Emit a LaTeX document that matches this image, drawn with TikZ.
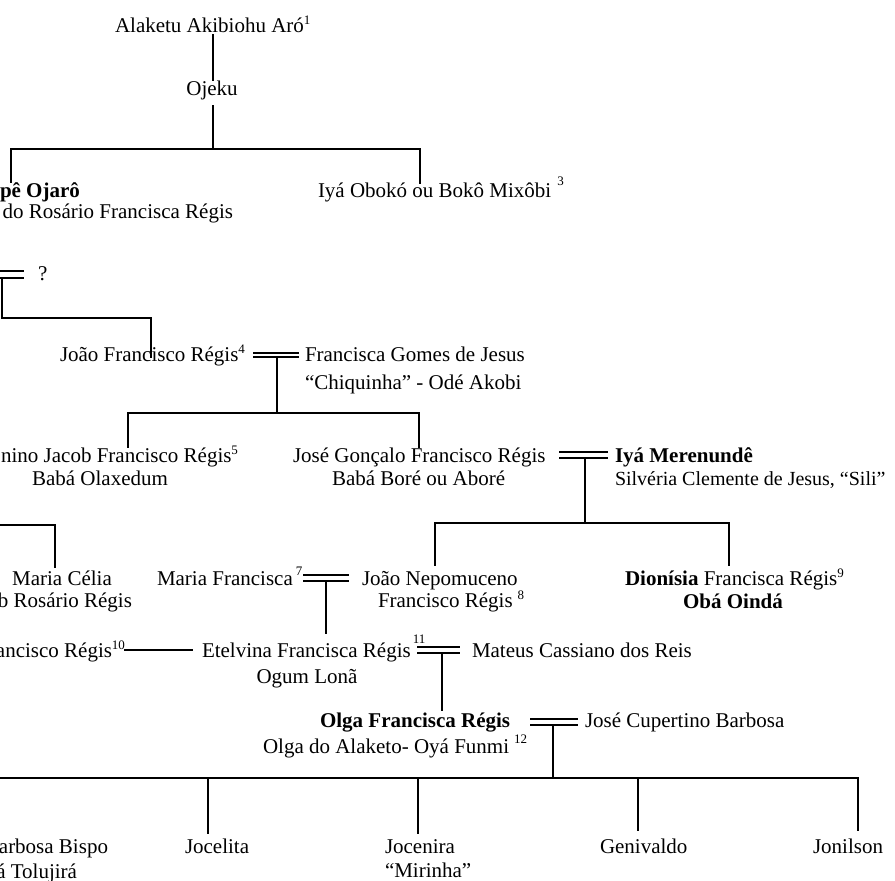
\documentclass[tikz,border=0pt]{standalone}
\usepackage{fontspec}
\setmainfont{Liberation Serif}
\newcommand\rsup[2]{\raisebox{#1}{\fontsize{13}{13}\selectfont #2}}
\begin{document}
\begin{tikzpicture}[x=1pt,y=-1pt,
  every node/.style={inner sep=0pt,outer sep=0pt,font=\fontsize{21}{24}\selectfont},
  tw/.style={anchor=base west},
  te/.style={anchor=base east},
  tc/.style={anchor=base},
  ln/.style={line width=1.3pt,line cap=rect},
  dbl/.style={line width=1.3pt}]
\useasboundingbox (0,0) rectangle (895,881);
\clip (0,0) rectangle (895,881);
\fill[white] (0,0) rectangle (895,881);

% ---- texts ----
\node[tw] (alaketu) at (115,32) {Alaketu Akibiohu Aró\rsup{8pt}{1}};
\node[tc] (ojeku) at (212,95) {Ojeku};
\node[tw] (ojaro) at (0,197) {\bfseries pê Ojarô};
\node[te] (ojaro2) at (233,218) {do Rosário Francisca Régis};
\node[tw] (oboko) at (318,197) {Iyá Obokó ou Bokô Mixôbi\hspace{6pt}\rsup{12pt}{3}};
\node[tw] (q) at (38,280) {?};
\node[tw] (joao) at (60,361) {João Francisco Régis\rsup{8pt}{4}};
\node[tw] (francisca) at (305,361) {Francisca Gomes de Jesus};
\node[tw] (francisca2) at (305,389) {“Chiquinha” - Odé Akobi};
\node[te] (jacob) at (238,462) {nino Jacob Francisco Régis\rsup{8pt}{5}};
\node[tc] (jacob2) at (100,485) {Babá Olaxedum};
\node[tw] (jose) at (293,462) {José Gonçalo Francisco Régis};
\node[tw] (jose2) at (332,485) {Babá Boré ou Aboré};
\node[tw] (iya) at (615,462) {\bfseries Iyá Merenundê};
\node[tw,font=\fontsize{20}{24}\selectfont] (iya2) at (615,485) {Silvéria Clemente de Jesus, “Sili”};
\node[tc] (celia) at (62,585) {Maria Célia};
\node[te] (celia2) at (132,607) {b Rosário Régis};
\node[tw] (mariaf) at (157,585) {Maria Francisca\hspace{3pt}\rsup{10pt}{7}};
\node[tw] (nepo) at (362,585) {João Nepomuceno};
\node[tw] (nepo2) at (378,607) {Francisco Régis\hspace{5pt}\rsup{8pt}{8}};
\node[tw] (dion) at (625,585) {\textbf{Dionísia} Francisca Régis\rsup{8pt}{9}};
\node[tc] (dion2) at (733,608) {\bfseries Obá Oindá};
\node[te] (fr10) at (125,657) {ancisco Régis\rsup{8pt}{10}};
\node[tw] (etel) at (202,657) {Etelvina Francisca Régis\hspace{2pt}\rsup{14pt}{11}};
\node[tc] (etel2) at (307,683) {Ogum Lonã};
\node[tw] (mateus) at (472,657) {Mateus Cassiano dos Reis};
\node[tw] (olga) at (320,727) {\bfseries Olga Francisca Régis};
\node[tw] (olga2) at (263,753) {Olga do Alaketo- Oyá Funmi\hspace{5pt}\rsup{10pt}{12}};
\node[tw] (cupertino) at (585,727) {José Cupertino Barbosa};
\node[te] (bispo) at (108,853) {arbosa Bispo};
\node[te] (bispo2) at (77,878) {á Tolujirá};
\node[tw] (jocelita) at (185,853) {Jocelita};
\node[tw] (jocenira) at (385,853) {Jocenira};
\node[tw] (jocenira2) at (385,877) {“Mirinha”};
\node[tw] (genivaldo) at (600,853) {Genivaldo};
\node[tw] (jonilson) at (813,853) {Jonilson};

% ---- junction coordinates ----
\coordinate (a1) at (213,35);  \coordinate (a2) at (213,80);
\coordinate (o1) at (213,106); \coordinate (o2) at (213,149);
\coordinate (h1l) at (11,149); \coordinate (h1r) at (420,149);
\coordinate (c1) at (11,182);  \coordinate (c2) at (420,183);
\coordinate (m1) at (2,278);   \coordinate (m2) at (2,318);
\coordinate (h2r) at (151,318); \coordinate (j1) at (151,357);
\coordinate (d2) at (277,357); \coordinate (d2b) at (277,413);
\coordinate (h3l) at (128,413); \coordinate (h3r) at (419,413);
\coordinate (k1) at (128,447); \coordinate (k2) at (419,447);
\coordinate (d3) at (585,458); \coordinate (d3b) at (585,523);
\coordinate (h4l) at (435,523); \coordinate (h4r) at (729,523);
\coordinate (n1) at (435,565); \coordinate (n2) at (729,565);
\coordinate (h5l) at (0,525); \coordinate (h5r) at (55,525); \coordinate (mc) at (55,567);
\coordinate (d4) at (326,581); \coordinate (d4b) at (326,633);
\coordinate (s1) at (125,650); \coordinate (s2) at (192,650);
\coordinate (d5) at (442,653); \coordinate (d5b) at (442,710);
\coordinate (d6) at (553,725); \coordinate (d6b) at (553,778);
\coordinate (h6l) at (0,778); \coordinate (h6r) at (858,778);
\coordinate (g1) at (208,778); \coordinate (g1b) at (208,833);
\coordinate (g2) at (418,778); \coordinate (g2b) at (418,833);
\coordinate (g3) at (638,778); \coordinate (g3b) at (638,830);
\coordinate (g4b) at (858,830);

% ---- connectors ----
\draw[ln] (a1) -- (a2);
\draw[ln] (o1) -- (o2);
\draw[ln] (c1) -- (h1l) -- (h1r) -- (c2);
\draw[ln] (m1) -- (m2) -- (h2r) -- (j1);
\draw[ln] (d2) -- (d2b);
\draw[ln] (k1) -- (h3l) -- (h3r) -- (k2);
\draw[ln] (d3) -- (d3b);
\draw[ln] (n1) -- (h4l) -- (h4r) -- (n2);
\draw[ln] (h5l) -- (h5r) -- (mc);
\draw[ln] (d4) -- (d4b);
\draw[ln] (s1) -- (s2);
\draw[ln] (d5) -- (d5b);
\draw[ln] (d6) -- (d6b);
\draw[ln] (h6l) -- (h6r) -- (g4b);
\draw[ln] (g1) -- (g1b);
\draw[ln] (g2) -- (g2b);
\draw[ln] (g3) -- (g3b);

% ---- marriage double lines ----
\draw[dbl] (0,271) -- (24,271) (0,278) -- (24,278);
\draw[dbl] (253,353) -- (299,353) (253,357) -- (299,357);
\draw[dbl] (559,452) -- (608,452) (559,458) -- (608,458);
\draw[dbl] (303,575) -- (349,575) (303,581) -- (349,581);
\draw[dbl] (417,647) -- (460,647) (417,653) -- (460,653);
\draw[dbl] (530,719) -- (578,719) (530,725) -- (578,725);
\end{tikzpicture}
\end{document}
